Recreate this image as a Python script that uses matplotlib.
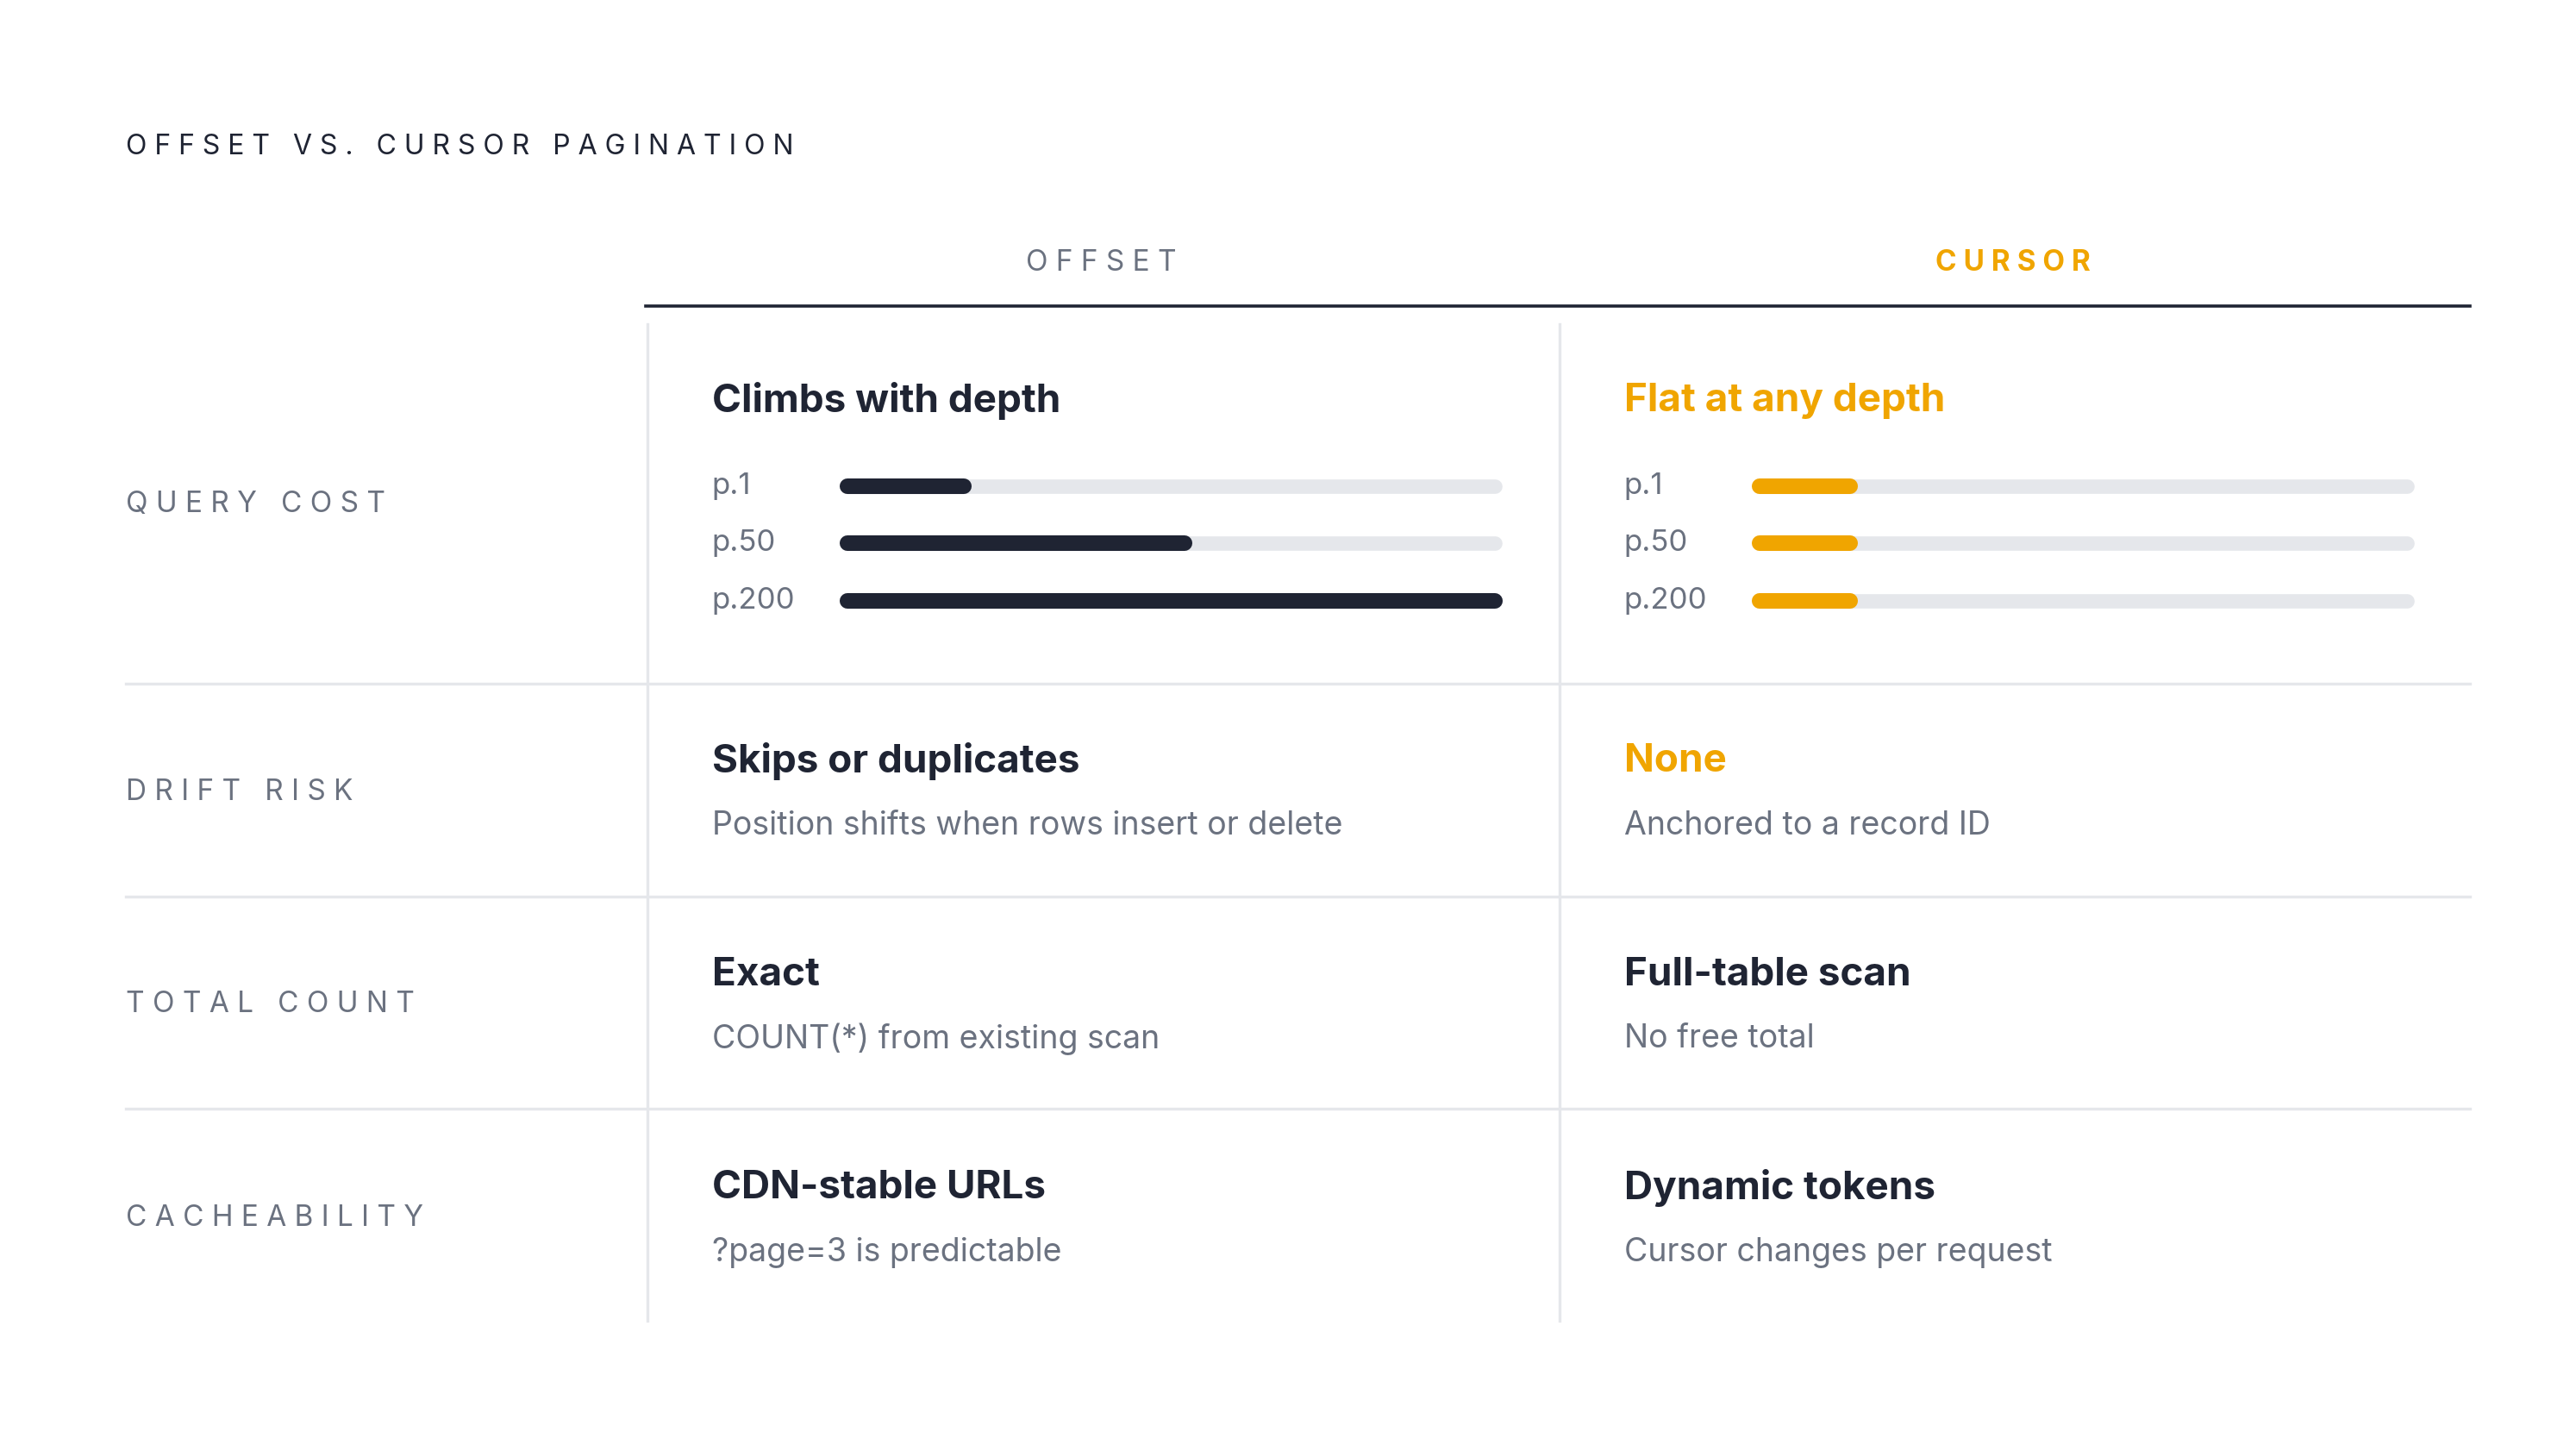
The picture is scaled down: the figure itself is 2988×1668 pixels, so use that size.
import matplotlib
matplotlib.use("Agg")
import matplotlib.pyplot as plt

plt.rcParams['font.family'] = ['Inter', 'DejaVu Sans']

title = "OFFSET VS. CURSOR PAGINATION"
columns = ["OFFSET", "CURSOR"]
rows = ["QUERY COST", "DRIFT RISK", "TOTAL COUNT", "CACHEABILITY"]
bar_labels = ["p.1", "p.50", "p.200"]
offset_cost = [0.18, 0.52, 1.0]
cursor_cost = [0.14, 0.14, 0.14]
offset_heads = ["Climbs with depth", "Skips or duplicates", "Exact", "CDN-stable URLs"]
offset_subs = ["", "Position shifts when rows insert or delete", "COUNT(*) from existing scan", "?page=3 is predictable"]
cursor_heads = ["Flat at any depth", "None", "Full-table scan", "Dynamic tokens"]
cursor_subs = ["", "Anchored to a record ID", "No free total", "Cursor changes per request"]
cursor_accent = [True, True, False, False]

DARK = "#1f2433"; ORANGE = "#f0a500"; GRAY = "#6b7280"; LIGHT = "#e5e7eb"

def spaced(s):
    return " ".join(" " if c == " " else c for c in s).replace("   ", "   ")

fig = plt.figure(figsize=(14.94, 8.34), dpi=200)
ax = fig.add_axes([0, 0, 1, 1])
ax.set_xlim(0, 1556); ax.set_ylim(869, 0); ax.axis('off')

ax.text(76, 89, spaced(title), fontsize=11.5, color=DARK, va='center', ha='left')
ax.text(665, 159, spaced(columns[0]), fontsize=12, color=GRAY, va='center', ha='center')
ax.text(1216, 159, spaced(columns[1]), fontsize=12, color=ORANGE, va='center', ha='center', fontweight='bold')
ax.plot([390, 1492], [185, 185], color=DARK, lw=1.3)
for x in (391, 942):
    ax.plot([x, x], [196, 798], color=LIGHT, lw=1.2)
for y in (413, 542, 670):
    ax.plot([76, 1492], [y, y], color=LIGHT, lw=1.2)

row_y = [305, 479, 607, 736]
head_y = [242, 460, 589, 718]
for i, r in enumerate(rows):
    ax.text(76, row_y[i], spaced(r), fontsize=12, color=GRAY, va='center', ha='left')
    ax.text(430, head_y[i], offset_heads[i], fontsize=16.5, color=DARK, fontweight='bold', va='center')
    ax.text(981, head_y[i], cursor_heads[i], fontsize=16.5, color=ORANGE if cursor_accent[i] else DARK,
            fontweight='bold', va='center')
    if offset_subs[i]:
        ax.text(430, head_y[i] + 39, offset_subs[i], fontsize=13.5, color=GRAY, va='center')
    if cursor_subs[i]:
        ax.text(981, head_y[i] + 39, cursor_subs[i], fontsize=13.5, color=GRAY, va='center')

bar_y = [294, 328, 363]
for x0, vals, col in ((430, offset_cost, DARK), (981, cursor_cost, ORANGE)):
    t0, t1 = x0 + 82, x0 + 473
    for lab, v, y in zip(bar_labels, vals, bar_y):
        ax.text(x0, y, lab, fontsize=12.5, color=GRAY, va='center')
        ax.plot([t0, t1], [y, y], color=LIGHT, lw=6, solid_capstyle='round')
        ax.plot([t0, t0 + (t1 - t0) * v], [y, y], color=col, lw=6.5, solid_capstyle='round')

fig.savefig("out.png", dpi=200, facecolor='white')
